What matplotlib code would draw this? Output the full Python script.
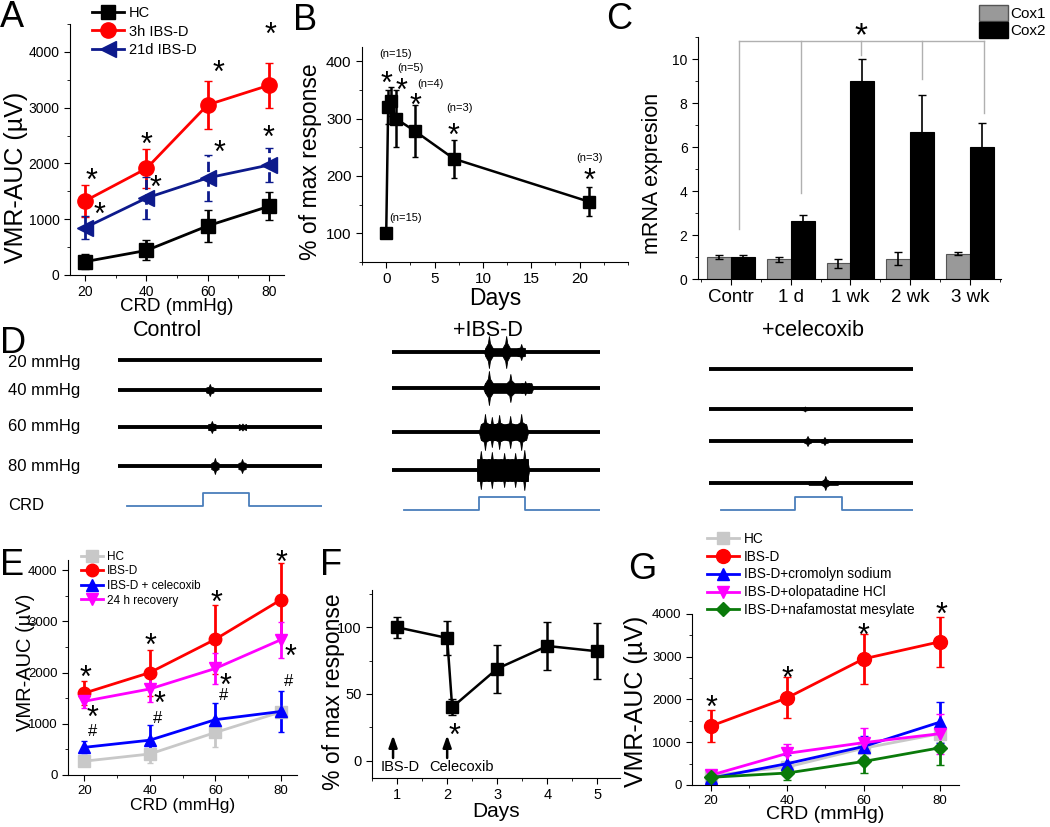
import numpy as np
import matplotlib
matplotlib.use("Agg")
import matplotlib.pyplot as plt
from matplotlib.patches import Patch
from matplotlib.ticker import MultipleLocator

plt.rcParams['font.family'] = ['Liberation Sans', 'DejaVu Sans']
plt.rcParams['xtick.direction'] = 'out'
plt.rcParams['ytick.direction'] = 'out'

# --- data ---
crd = [20, 40, 60, 80]

# A
a_hc = [240, 440, 880, 1230]
a_hc_err = [130, 180, 290, 250]
a_3h = [1330, 1910, 3050, 3400]
a_3h_err = [290, 350, 430, 400]
a_21d = [850, 1380, 1740, 1970]
a_21d_err = [200, 380, 420, 300]

# B
b_days = [0, 0.2, 0.5, 1, 3, 7, 21]
b_resp = [100, 320, 330, 300, 278, 230, 155]
b_err = [5, 30, 25, 50, 45, 33, 25]

# C
c_groups = ["Contr", "1 d", "1 wk", "2 wk", "3 wk"]
cox1 = [1.0, 0.9, 0.72, 0.92, 1.15]
cox1_err = [0.1, 0.12, 0.2, 0.3, 0.08]
cox2 = [1.0, 2.65, 9.0, 6.68, 6.0]
cox2_err = [0.1, 0.28, 1.0, 1.7, 1.1]

# E
e_hc = [270, 410, 830, 1230]
e_hc_err = [80, 180, 290, 100]
e_ibs = [1600, 2000, 2650, 3420]
e_ibs_err = [230, 450, 680, 720]
e_cel = [540, 680, 1080, 1240]
e_cel_err = [120, 300, 330, 410]
e_rec = [1440, 1680, 2080, 2640]
e_rec_err = [130, 250, 300, 350]

# F
f_days = [1, 2, 2.1, 3, 4, 5]
f_resp = [100, 92, 40, 69, 86, 82]
f_err = [8, 13, 6, 18, 18, 21]

# G
g_hc = [220, 420, 860, 1200]
g_hc_err = [60, 120, 200, 200]
g_ibs = [1380, 2040, 2950, 3350]
g_ibs_err = [370, 480, 590, 590]
g_cro = [160, 500, 900, 1470]
g_cro_err = [80, 200, 250, 480]
g_olo = [230, 740, 990, 1200]
g_olo_err = [80, 210, 350, 470]
g_naf = [180, 280, 550, 870]
g_naf_err = [50, 160, 270, 400]

# D: burst envelopes (start %, end %, body half-amplitude, spikes (pos %, half-amp))
d_rows = ["20 mmHg", "40 mmHg", "60 mmHg", "80 mmHg"]
d_control = [None,
             (44, 46, 2.5, [(45, 6)]),
             (44, 48, 3, [(46, 6), (61, 3.5)]),
             (46, 49, 3, [(47.5, 8), (60.8, 7)])]
d_ibs = [(44, 64, 4, [(46.6, 16), (54.9, 16), (62.1, 8)]),
         (43.7, 68, 5, [(46.6, 17), (56.9, 14), (64, 7)]),
         (41.7, 65.5, 8, [(44.7, 18), (48, 15), (51.5, 17), (56.8, 16), (62.1, 18)]),
         (40.8, 66, 11, [(42.7, 19), (48, 18), (53.9, 17), (59.2, 17), (63.6, 20)])]
d_cel = [None,
         (46, 48, 1, [(47, 2.5)]),
         (47, 50, 1.5, [(48.3, 5), (56.6, 4)]),
         (48, 64, 2, [(57, 7)])]


def clean(ax, size=10):
    ax.spines[['top', 'right']].set_visible(False)
    ax.tick_params(labelsize=size, length=4)
    ax.tick_params(which='minor', length=2.5)


def star(ax, x, y, s="*", size=22):
    ax.annotate(s, (x, y), xytext=(0, -0.3 * size if s == "*" else 0),
                textcoords='offset points', ha='center', va='center',
                fontsize=size, annotation_clip=False)


fig = plt.figure(figsize=(10.5, 8.27), dpi=100)

# ---------- A ----------
ax = fig.add_axes([0.0667, 0.6675, 0.2038, 0.3035])
h1 = ax.errorbar(crd, a_hc, a_hc_err, color='k', marker='s', ms=10, lw=2, capsize=3)
h2 = ax.errorbar(crd, a_3h, a_3h_err, color='#ff0000', marker='o', ms=11, lw=2, capsize=3)
h3 = ax.errorbar(crd, a_21d, a_21d_err, color='#0d1a8c', marker='<', ms=11, lw=2, capsize=3)
h3[2][0].set_linestyle('--')
ax.set_xlim(15, 85)
ax.set_ylim(0, 4500)
ax.set_xticks(crd)
ax.xaxis.set_minor_locator(MultipleLocator(10))
ax.set_yticks([0, 1000, 2000, 3000, 4000])
ax.yaxis.set_minor_locator(MultipleLocator(500))
clean(ax)
ax.set_xlabel("CRD (mmHg)", fontsize=13.5)
ax.set_ylabel("VMR-AUC (\u00b5V)", fontsize=18)
ax.yaxis.set_label_coords(-0.196, 0.39)
ax.xaxis.set_label_coords(0.5, -0.09)
ax.legend([h1[0], h2[0], h3[0]], ['HC', '3h IBS-D', '21d IBS-D'], loc='upper left',
          bbox_to_anchor=(0.07, 1.1), frameon=False, fontsize=10.5,
          handlelength=2.2, labelspacing=0.3, borderpad=0, handletextpad=0.3)
for x, y in [(22, 1830), (24.5, 1220), (40, 2475), (43, 1700), (63.5, 3770), (64, 2330),
             (80.5, 4450), (80, 2600)]:
    star(ax, x, y)

# ---------- B ----------
ax = fig.add_axes([0.3448, 0.6832, 0.2533, 0.26])
ax.errorbar(b_days, b_resp, b_err, color='k', marker='s', ms=9, lw=1.8, capsize=2.5)
ax.set_xlim(-2.5, 25)
ax.set_ylim(50, 425)
ax.set_xticks([0, 5, 10, 15, 20])
ax.xaxis.set_minor_locator(MultipleLocator(2.5))
ax.set_yticks([100, 200, 300, 400])
ax.yaxis.set_minor_locator(MultipleLocator(50))
clean(ax, 11)
ax.set_xlabel("Days", fontsize=16.5)
ax.set_ylabel("% of max response", fontsize=16.5)
ax.yaxis.set_label_coords(-0.15, 0.465)
ax.xaxis.set_label_coords(0.5, -0.115)
for x, y, s in [(1.0, 412, "(n=15)"), (2.5, 388, "(n=5)"), (4.6, 360, "(n=4)"),
                (7.6, 318, "(n=3)"), (21.0, 232, "(n=3)"), (2.0, 127, "(n=15)")]:
    ax.text(x, y, s, ha='center', va='center', fontsize=8)
for x, y in [(0, 374), (1.6, 362), (3, 336), (7, 284), (21, 205)]:
    star(ax, x, y)

# ---------- C ----------
ax = fig.add_axes([0.6648, 0.6626, 0.2886, 0.2926])
xc = np.arange(len(c_groups))
ax.bar(xc - 0.2, cox1, 0.4, color='#999999', edgecolor='#555555', lw=0.8,
       yerr=cox1_err, capsize=3, error_kw=dict(lw=1.2))
ax.bar(xc + 0.2, cox2, 0.4, color='k', edgecolor='k', lw=0.8,
       yerr=cox2_err, capsize=3, error_kw=dict(lw=1.2))
ax.set_xlim(-0.55, 4.52)
ax.set_ylim(0, 11)
ax.set_xticks(xc)
ax.set_xticklabels(c_groups)
ax.xaxis.set_minor_locator(MultipleLocator(0.5))
ax.set_yticks([0, 2, 4, 6, 8, 10])
ax.yaxis.set_minor_locator(MultipleLocator(1))
clean(ax)
ax.tick_params(axis='x', labelsize=13.5)
ax.set_ylabel("mRNA expresion", fontsize=15.5)
ax.yaxis.set_label_coords(-0.115, 0.438)
# significance bracket
br_x = [0.13, 1.18, 2.18, 3.2, 4.23]
br_y = [2.27, 3.9, 10.2, 9.1, 7.55]
ax.plot([br_x[0], br_x[-1]], [10.8, 10.8], color='#b0b0b0', lw=1, clip_on=False)
for x, y in zip(br_x, br_y):
    ax.plot([x, x], [y, 10.8], color='#b0b0b0', lw=1)
star(ax, 2.17, 11.45, size=24)
fig.legend(handles=[Patch(facecolor='#999999', edgecolor='#555555', label='Cox1'),
                    Patch(facecolor='k', edgecolor='k', label='Cox2')],
           loc='upper right', bbox_to_anchor=(1.005, 1.005), frameon=False, fontsize=11,
           handlelength=1.9, handleheight=1.25, labelspacing=0.05, handletextpad=0.2,
           borderpad=0.1)

# ---------- D ----------
d_cols = [("Control", 167, 118, 322, [360, 390, 427, 466], 506, 493, [4.5, 41.6, 64], d_control),
          ("+IBS-D", 488, 392, 600, [352, 388, 432, 470], 510, 497, [6, 42, 64], d_ibs),
          ("+celecoxib", 813, 709, 913, [369, 409, 441, 483], 510, 497, [6, 42, 65], d_cel)]
for title, tx, px0, px1, offs, lo, hi, step, bursts in d_cols:
    ax = fig.add_axes([px0 / 1050, (827 - 530) / 827, (px1 - px0) / 1050, 200 / 827])
    ax.set_xlim(0, 100)
    ax.set_ylim(530, 330)
    ax.axis('off')
    for y0, b in zip(offs, bursts):
        ax.plot([0, 100], [y0, y0], color='k', lw=2.8, solid_capstyle='butt')
        if b is None:
            continue
        b0, b1, body, spikes = b
        ax.fill_between([b0, b0 + 1, b1 - 1, b1], [y0, y0 - body, y0 - body, y0],
                        [y0, y0 + body, y0 + body, y0], color='k', lw=0.5)
        for c, amp in spikes:
            sx = [c - 1.8, c - 0.5, c, c + 0.5, c + 1.8]
            sa = np.array([body, 0.55 * amp, amp, 0.55 * amp, body])
            ax.fill_between(sx, y0 - sa, y0 + sa, color='k', lw=0.6)
    s0, s1, s2 = step
    ax.plot([s0, s1, s1, s2, s2, 100], [lo, lo, hi, hi, lo, lo], color='#4a7ebb', lw=1.3)
    fig.text(tx / 1050, 1 - 330 / 827, title, ha='center', va='center', fontsize=15.5,
             family=['Liberation Sans Narrow', 'Liberation Sans'])
for lab, y in zip(d_rows + ["CRD"], [363, 390, 426, 466, 505]):
    fig.text(8 / 1050, 1 - y / 827, lab, ha='left', va='center', fontsize=12,
             family=['Liberation Sans Narrow', 'Liberation Sans'])

# ---------- E ----------
ax = fig.add_axes([0.0648, 0.0629, 0.2181, 0.26])
hs = [ax.errorbar(crd, e_hc, e_hc_err, color='#c8c8c8', marker='s', ms=8, lw=2, capsize=2),
      ax.errorbar(crd, e_ibs, e_ibs_err, color='#ff0000', marker='o', ms=9, lw=2, capsize=2),
      ax.errorbar(crd, e_cel, e_cel_err, color='#0000ff', marker='^', ms=9, lw=2, capsize=2),
      ax.errorbar(crd, e_rec, e_rec_err, color='#ff00ff', marker='v', ms=9, lw=2, capsize=2)]
ax.set_xlim(15, 85)
ax.set_ylim(0, 4200)
ax.set_xticks(crd)
ax.xaxis.set_minor_locator(MultipleLocator(10))
ax.set_yticks([0, 1000, 2000, 3000, 4000])
ax.yaxis.set_minor_locator(MultipleLocator(500))
clean(ax, 9.5)
ax.set_xlabel("CRD (mmHg)", fontsize=12.5)
ax.set_ylabel("VMR-AUC (\u00b5V)", fontsize=14.5)
ax.yaxis.set_label_coords(-0.144, 0.525)
ax.xaxis.set_label_coords(0.5, -0.105)
ax.legend([h[0] for h in hs], ['HC', 'IBS-D', 'IBS-D + celecoxib', '24 h recovery'],
          loc='upper left', bbox_to_anchor=(0.03, 1.07), frameon=False, fontsize=8.5,
          handlelength=1.9, labelspacing=0.22, borderpad=0, handletextpad=0.3)
for x, y in [(20.3, 2050), (22.5, 1270), (40.3, 2675), (43, 1540), (60.5, 3515),
             (63, 1890), (80.3, 4300), (83, 2460)]:
    star(ax, x, y)
for x, y in [(22.5, 840), (42.5, 1110), (62.5, 1560), (82.5, 1820)]:
    star(ax, x, y, s="#", size=12)

# ---------- F ----------
ax = fig.add_axes([0.3543, 0.0593, 0.2362, 0.2273])
ax.errorbar(f_days, f_resp, f_err, color='k', marker='s', ms=9, lw=1.8, capsize=3)
ax.set_xlim(0.5, 5.45)
ax.set_ylim(-13, 128)
ax.set_xticks([1, 2, 3, 4, 5])
ax.xaxis.set_minor_locator(MultipleLocator(0.5))
ax.set_yticks([0, 50, 100])
ax.yaxis.set_minor_locator(MultipleLocator(25))
clean(ax, 10.5)
ax.set_xlabel("Days", fontsize=15)
ax.set_ylabel("% of max response", fontsize=16.5)
ax.yaxis.set_label_coords(-0.11, 0.457)
ax.xaxis.set_label_coords(0.5, -0.13)
for x, tx, lab in [(0.92, 1.06, "IBS-D"), (2.0, 2.28, "Celecoxib")]:
    ax.annotate("", xy=(x, 19), xytext=(x, 2),
                arrowprops=dict(arrowstyle='-|>,head_length=0.7,head_width=0.25',
                                color='k', lw=1.8, shrinkA=0, shrinkB=0))
    ax.text(tx, -5, lab, ha='center', va='center', fontsize=10.5)
star(ax, 2.14, 25)

# ---------- G ----------
ax = fig.add_axes([0.659, 0.0508, 0.2543, 0.2068])
hs = [ax.errorbar(crd, g_hc, g_hc_err, color='#c8c8c8', marker='s', ms=8, lw=2, capsize=3),
      ax.errorbar(crd, g_ibs, g_ibs_err, color='#ff0000', marker='o', ms=10, lw=2, capsize=3),
      ax.errorbar(crd, g_cro, g_cro_err, color='#0000ff', marker='^', ms=9, lw=2, capsize=3),
      ax.errorbar(crd, g_olo, g_olo_err, color='#ff00ff', marker='v', ms=9, lw=2, capsize=3),
      ax.errorbar(crd, g_naf, g_naf_err, color='#0a7a0a', marker='D', ms=7, lw=2, capsize=3)]
ax.set_xlim(15, 85)
ax.set_ylim(0, 4000)
ax.set_xticks(crd)
ax.xaxis.set_minor_locator(MultipleLocator(10))
ax.set_yticks([0, 1000, 2000, 3000, 4000])
ax.yaxis.set_minor_locator(MultipleLocator(500))
clean(ax, 9.5)
ax.set_xlabel("CRD (mmHg)", fontsize=14)
ax.set_ylabel("VMR-AUC (\u00b5V)", fontsize=18)
ax.yaxis.set_label_coords(-0.165, 0.49)
ax.xaxis.set_label_coords(0.5, -0.125)
ax.legend([h[0] for h in hs], ['HC', 'IBS-D', 'IBS-D+cromolyn sodium', 'IBS-D+olopatadine HCl',
                               'IBS-D+nafamostat mesylate'],
          loc='upper left', bbox_to_anchor=(0.03, 1.52), frameon=False, fontsize=9.8,
          handlelength=2.4, labelspacing=0.28, borderpad=0, handletextpad=0.3)
for x, y in [(20, 1990), (40, 2670), (60, 3680), (80.5, 4180)]:
    star(ax, x, y)

# panel letters
for lab, x, y in [("A", 0, 0), ("B", 293, 3), ("C", 606, 2), ("D", 0, 326),
                  ("E", 0, 548), ("F", 320, 548), ("G", 628, 552)]:
    fig.text(x / 1050, 1 - y / 827, lab, ha='left', va='top', fontsize=26)

fig.savefig("out.png", dpi=100)
